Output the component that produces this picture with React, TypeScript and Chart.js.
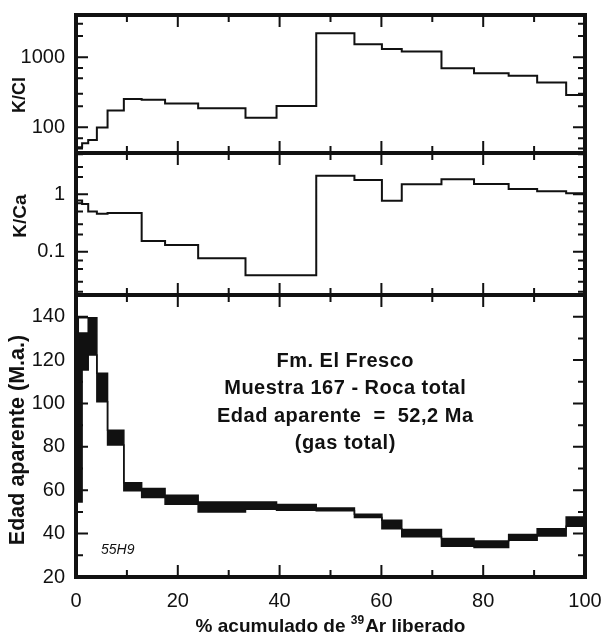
import React, { useEffect, useRef } from "react";
import { Chart, registerables } from "chart.js";

Chart.register(...registerables);

// ---------- data ----------
// cumulative % of 39Ar released at each step boundary
const stepEdges = [0, 1.2, 2.4, 4.1, 6.2, 9.4, 12.9, 17.5, 24.0, 33.3, 39.4, 47.2, 54.7, 60.1, 64.0, 71.8, 78.2, 85.0, 90.6, 96.3, 100];
const kClValues = [52, 59, 66, 99, 173, 254, 248, 218, 187, 137, 201, 2200, 1534, 1314, 1202, 697, 591, 546, 434, 290];
const kCaValues = [0.78, 0.68, 0.5, 0.46, 0.47, 0.47, 0.153, 0.131, 0.077, 0.039, 0.039, 2.11, 1.77, 0.77, 1.49, 1.82, 1.51, 1.24, 1.13, 1.04];
const ageLow = [54.6, 115.4, 122.3, 100.8, 80.8, 59.8, 56.6, 53.5, 50.0, 51.2, 50.8, 50.5, 47.4, 42.3, 38.5, 34.2, 33.6, 36.9, 38.9, 43.4];
const ageHigh = [132.5, 132.5, 139.5, 113.9, 87.7, 63.4, 60.8, 57.7, 54.6, 54.6, 53.4, 51.8, 48.9, 46.2, 41.9, 37.7, 36.6, 39.6, 42.3, 47.7];
// open upper error bracket of step 2
const bracketX = [0.45, 2.4];
const bracketAge = [132.5, 139.5];

const xTickLabels = [0, 20, 40, 60, 80, 100];
const kClLabels = [100, 1000];
const kCaLabels = [0.1, 1];
const ageLabels = [20, 40, 60, 80, 100, 120, 140];

const noteLines = ["Fm. El Fresco", "Muestra 167 - Roca total", "Edad aparente  =  52,2 Ma", "(gas total)"];
const sampleCode = "55H9";

// ---------- layout ----------
const W = 601;
const H = 634;
const FONT = "'Liberation Sans', Arial, Helvetica, sans-serif";
const INK = "#111";
const PLOT_LEFT = 76;
const PLOT_RIGHT = 585;
const P1 = { top: 15, bottom: 153 };
const P2 = { top: 153, bottom: 295 };
const P3 = { top: 295, bottom: 577 };

Chart.defaults.font.family = FONT;
Chart.defaults.color = INK;

function stepPoints(xs: number[], vs: number[]) {
  const pts = vs.map((v, i) => ({ x: xs[i], y: v }));
  pts.push({ x: xs[xs.length - 1], y: vs[vs.length - 1] });
  return pts;
}

type Tick = { v: number; major: boolean };

function logTicks(min: number, max: number): Tick[] {
  const out: Tick[] = [];
  for (let e = Math.floor(Math.log10(min)); e <= Math.ceil(Math.log10(max)); e++) {
    for (const m of [1, 2, 3, 5, 7]) {
      const v = m * Math.pow(10, e);
      if (v > min && v < max) out.push({ v, major: m === 1 });
    }
  }
  return out;
}

function linTicks(min: number, max: number, step: number, majorEvery: number): Tick[] {
  const out: Tick[] = [];
  for (let v = min + step; v < max - 1e-9; v += step) out.push({ v, major: Math.abs(v % majorEvery) < 1e-9 });
  return out;
}

const xTicks = linTicks(0, 100, 10, 20);

const framePlugin = {
  id: "frameTicks",
  afterDatasetsDraw(chart: any, _args: any, opts: any) {
    const { ctx, chartArea: a, scales } = chart;
    const xs = scales.x;
    const ys = scales.y;
    ctx.save();
    ctx.strokeStyle = INK;
    ctx.lineWidth = 2;
    ctx.beginPath();
    for (const t of xTicks) {
      const px = xs.getPixelForValue(t.v);
      const L = t.major ? 12 : 7;
      ctx.moveTo(px, a.top);
      ctx.lineTo(px, a.top + L);
      ctx.moveTo(px, a.bottom);
      ctx.lineTo(px, a.bottom - L);
    }
    for (const t of opts.yTicks as Tick[]) {
      const py = ys.getPixelForValue(t.v);
      const L = t.major ? 12 : 7;
      ctx.moveTo(a.left, py);
      ctx.lineTo(a.left + L, py);
      ctx.moveTo(a.right, py);
      ctx.lineTo(a.right - L, py);
    }
    ctx.stroke();
    ctx.lineWidth = 4;
    ctx.strokeRect(a.left, a.top, a.right - a.left, a.bottom - a.top);

    // y-axis title (rotated, reads bottom to top)
    const t = opts.title;
    if (t) {
      ctx.translate(t.x, (a.top + a.bottom) / 2 + t.dy);
      ctx.rotate(-Math.PI / 2);
      ctx.fillStyle = INK;
      ctx.font = `bold ${t.size}px ${FONT}`;
      ctx.textAlign = "center";
      ctx.textBaseline = "middle";
      ctx.fillText(t.text, 0, 0);
    }
    ctx.restore();
  },
};

const notesPlugin = {
  id: "notes",
  afterDraw(chart: any) {
    const { ctx, scales, chartArea: a } = chart;
    const xs = scales.x;
    const ys = scales.y;
    ctx.save();
    ctx.fillStyle = INK;
    ctx.textAlign = "center";
    ctx.textBaseline = "alphabetic";
    ctx.font = `bold 20px ${FONT}`;
    try { (ctx as any).letterSpacing = "0.5px"; } catch (e) {}
    const cx = xs.getPixelForValue(52.9);
    const y0 = ys.getPixelForValue(116.8);
    noteLines.forEach((s, i) => ctx.fillText(s, cx, y0 + i * 27.3));
    try { (ctx as any).letterSpacing = "0px"; } catch (e) {}
    ctx.font = `italic 14px ${FONT}`;
    ctx.fillText(sampleCode, xs.getPixelForValue(8.2), ys.getPixelForValue(30.7));

    // x-axis title with superscript
    const partA = "% acumulado de ";
    const sup = "39";
    const partB = "Ar liberado";
    const big = `bold 19px ${FONT}`;
    const small = `bold 12px ${FONT}`;
    ctx.font = big;
    const wA = ctx.measureText(partA).width;
    const wB = ctx.measureText(partB).width;
    ctx.font = small;
    const wS = ctx.measureText(sup).width;
    const total = wA + wS + 1 + wB;
    let x = (a.left + a.right) / 2 - total / 2;
    const base = H - 2.5;
    ctx.textAlign = "left";
    ctx.font = big;
    ctx.fillText(partA, x, base);
    x += wA;
    ctx.font = small;
    ctx.fillText(sup, x, base - 8);
    x += wS + 1;
    ctx.font = big;
    ctx.fillText(partB, x, base);
    ctx.restore();
  },
};

function yAxisFit(s: any) {
  s.width = PLOT_LEFT;
  s.paddingTop = 0;
  s.paddingBottom = 0;
}

function makeConfig(
  panel: { top: number; bottom: number },
  yScale: any,
  datasets: any[],
  yTickList: Tick[],
  title: any,
  isBottom: boolean
): any {
  return {
    type: "line",
    data: { datasets },
    options: {
      animation: false,
      responsive: false,
      devicePixelRatio: 1,
      events: [],
      layout: {
        padding: { top: panel.top, bottom: isBottom ? 0 : H - panel.bottom, left: 0, right: W - PLOT_RIGHT },
      },
      plugins: {
        legend: { display: false },
        tooltip: { enabled: false },
        frameTicks: { yTicks: yTickList, title },
      },
      scales: {
        x: {
          type: "linear",
          min: 0,
          max: 100,
          display: isBottom,
          grid: { display: false, drawTicks: false },
          border: { display: false },
          ticks: {
            stepSize: 20,
            padding: 12,
            autoSkip: false,
            maxRotation: 0,
            font: { size: 20 },
            color: INK,
            callback: (v: number) => (xTickLabels.includes(v) ? String(v) : ""),
          },
          afterFit: (s: any) => {
            if (isBottom) s.height = H - panel.bottom;
            s.paddingLeft = 0;
            s.paddingRight = 0;
          },
        },
        y: {
          position: "left",
          grid: { display: false, drawTicks: false },
          border: { display: false },
          afterFit: yAxisFit,
          ...yScale,
        },
      },
    },
    plugins: [framePlugin, ...(isBottom ? [notesPlugin] : [])],
  };
}

function isLabel(list: number[]) {
  return (v: number) => {
    const hit = list.find((l) => Math.abs(v - l) / l < 1e-6);
    return hit === undefined ? "" : String(hit);
  };
}

const stepLine = (data: any[]) => ({
  data,
  stepped: true,
  borderColor: INK,
  borderWidth: 2,
  pointRadius: 0,
  fill: false,
});

export default function App() {
  const r1 = useRef<HTMLCanvasElement>(null);
  const r2 = useRef<HTMLCanvasElement>(null);
  const r3 = useRef<HTMLCanvasElement>(null);

  useEffect(() => {
    const kClMin = 43, kClMax = 4000;
    const kCaMin = 0.0176, kCaMax = 5.24;
    const c1 = new Chart(
      r1.current!,
      makeConfig(
        P1,
        {
          type: "logarithmic",
          min: kClMin,
          max: kClMax,
          ticks: { autoSkip: false, padding: 11, font: { size: 20 }, color: INK, callback: isLabel(kClLabels) },
        },
        [stepLine(stepPoints(stepEdges, kClValues))],
        logTicks(kClMin, kClMax),
        { text: "K/Cl", size: 18, x: 20.5, dy: 11 },
        false
      )
    );
    const c2 = new Chart(
      r2.current!,
      makeConfig(
        P2,
        {
          type: "logarithmic",
          min: kCaMin,
          max: kCaMax,
          ticks: { autoSkip: false, padding: 11, font: { size: 20 }, color: INK, callback: isLabel(kCaLabels) },
        },
        [stepLine(stepPoints(stepEdges, kCaValues))],
        logTicks(kCaMin, kCaMax),
        { text: "K/Ca", size: 19, x: 20.5, dy: -8 },
        false
      )
    );
    const bracket = [
      { x: bracketX[0], y: bracketAge[0] },
      { x: bracketX[0], y: bracketAge[1] },
      { x: bracketX[1], y: bracketAge[1] },
    ];
    const c3 = new Chart(
      r3.current!,
      makeConfig(
        P3,
        {
          type: "linear",
          min: 20,
          max: 150,
          ticks: { stepSize: 20, includeBounds: false, autoSkip: false, padding: 11, font: { size: 20 }, color: INK, callback: isLabel(ageLabels) },
        },
        [
          { data: bracket, borderColor: INK, borderWidth: 1.5, pointRadius: 0, fill: false },
          { ...stepLine(stepPoints(stepEdges, ageHigh)), borderWidth: 1.5 },
          { ...stepLine(stepPoints(stepEdges, ageLow)), borderWidth: 1.5, fill: "-1", backgroundColor: INK },
        ],
        linTicks(20, 150, 10, 20),
        { text: "Edad aparente (M.a.)", size: 21.5, x: 18.5, dy: 4 },
        true
      )
    );
    return () => {
      c1.destroy();
      c2.destroy();
      c3.destroy();
    };
  }, []);

  const cs: React.CSSProperties = { position: "absolute", left: 0, top: 0 };
  return (
    <div style={{ position: "fixed", left: 0, top: 0, width: W, height: H, background: "#fff" }}>
      <canvas ref={r1} width={W} height={H} style={cs} />
      <canvas ref={r2} width={W} height={H} style={cs} />
      <canvas ref={r3} width={W} height={H} style={cs} />
    </div>
  );
}
